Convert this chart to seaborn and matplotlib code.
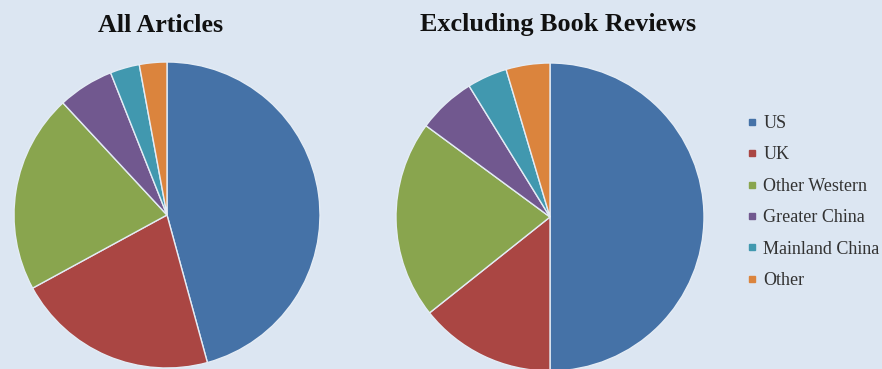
import matplotlib
matplotlib.use("Agg")
import matplotlib.pyplot as plt
from matplotlib.lines import Line2D
import seaborn as sns

# Share of articles by author region (percent)
regions = ["US", "UK", "Other Western", "Greater China", "Mainland China", "Other"]
all_articles = [45.7, 21.3, 21.0, 5.9, 3.1, 2.9]
excl_book_reviews = [50.0, 14.3, 20.8, 6.1, 4.2, 4.6]
titles = ["All Articles", "Excluding Book Reviews"]

palette = sns.color_palette(["#4572A7", "#AA4643", "#89A54E", "#71588F", "#4198AF", "#DB843D"])
bg = "#DCE6F2"

sns.set_style("white")
plt.rcParams["font.family"] = ["Liberation Serif", "DejaVu Serif"]

W, H = 882, 369
fig = plt.figure(figsize=(W / 100, H / 100), dpi=100, facecolor=bg)


def px_axes(cx, cy, r):
    # axes box (in figure fractions) for a pie of radius r centred at pixel (cx, cy)
    return [(cx - r) / W, (H - cy - r) / H, 2 * r / W, 2 * r / H]


specs = [((167, 215, 153), all_articles, titles[0], 161),
         ((550, 217, 154), excl_book_reviews, titles[1], 558)]

for (cx, cy, r), vals, title, tx in specs:
    ax = fig.add_axes(px_axes(cx, cy, r))
    ax.set_facecolor("none")
    ax.pie(vals, colors=palette, startangle=90, counterclock=False,
           radius=1.0, wedgeprops=dict(edgecolor="#E4ECF5", linewidth=1.0))
    ax.set_xlim(-1.0, 1.0)
    ax.set_ylim(-1.0, 1.0)
    ax.set_aspect("equal")
    ax.axis("off")
    fig.text(tx / W, 1 - 25 / H, title, ha="center", va="center",
             fontsize=18.8, fontweight="bold", color="#111111")

handles = [Line2D([0], [0], marker="s", linestyle="none", markersize=5,
                  markerfacecolor=c, markeredgecolor=c) for c in palette]
leg = fig.legend(handles, regions, loc="upper left",
                 bbox_to_anchor=(746 / W, 1 - 115 / H), frameon=False,
                 fontsize=13, handlelength=0.7, handletextpad=0.25,
                 labelspacing=0.8, borderaxespad=0, borderpad=0)
for t in leg.get_texts():
    t.set_color("#333333")

fig.savefig("out.png", dpi=100, facecolor=bg)
